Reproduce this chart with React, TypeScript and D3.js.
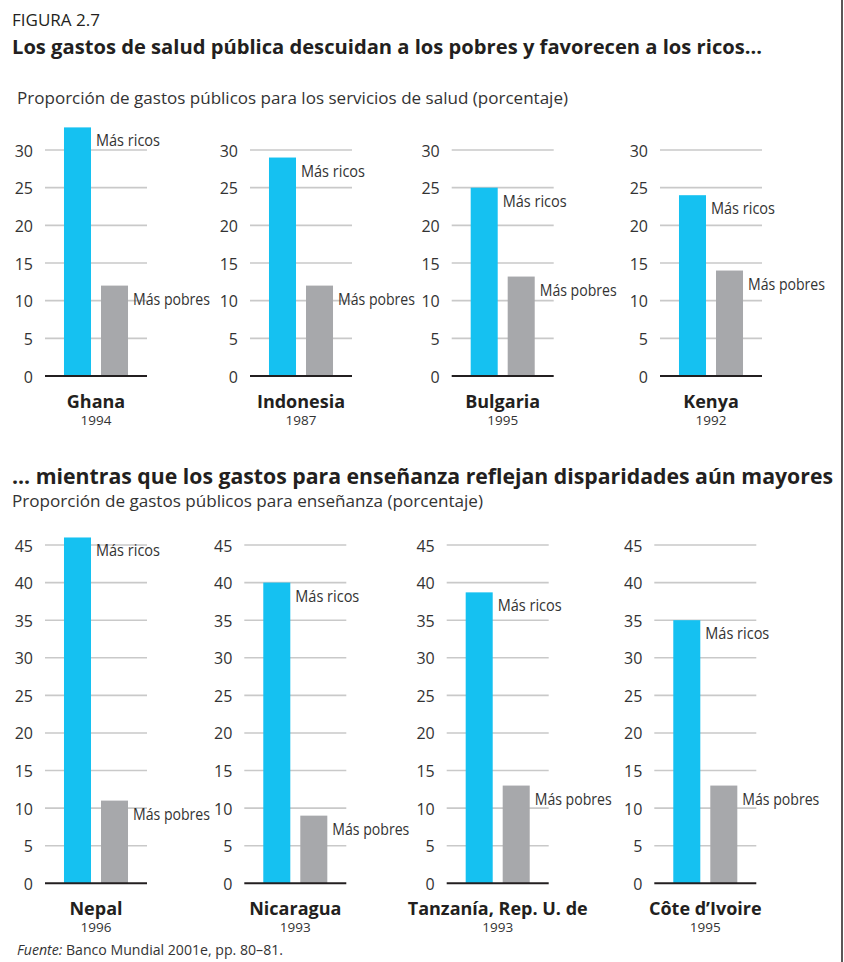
import React from 'react';
import * as d3 from 'd3';

// ---- data ----
const healthCountries = ['Ghana', 'Indonesia', 'Bulgaria', 'Kenya'];
const healthYears = ['1994', '1987', '1995', '1992'];
const healthRich = [33, 29, 25, 24];
const healthPoor = [12, 12, 13.2, 14];
const healthTicks = [0, 5, 10, 15, 20, 25, 30];

const eduCountries = ['Nepal', 'Nicaragua', 'Tanzanía, Rep. U. de', 'Côte d’Ivoire'];
const eduYears = ['1996', '1993', '1993', '1995'];
const eduRich = [46, 40, 38.7, 35];
const eduPoor = [11, 9, 13, 13];
const eduTicks = [0, 5, 10, 15, 20, 25, 30, 35, 40, 45];

const seriesKeys = ['rich', 'poor'];
const seriesLabels = ['Más ricos', 'Más pobres'];

const figureLabel = 'FIGURA 2.7';
const title1 = 'Los gastos de salud pública descuidan a los pobres y favorecen a los ricos...';
const subtitle1 = 'Proporción de gastos públicos para los servicios de salud (porcentaje)';
const title2 = '... mientras que los gastos para enseñanza reflejan disparidades aún mayores';
const subtitle2 = 'Proporción de gastos públicos para enseñanza (porcentaje)';
const sourceLead = 'Fuente:';
const sourceText = ' Banco Mundial 2001e, pp. 80–81.';

// ---- style ----
const W = 844;
const H = 962;
const BLUE = '#15c1f1';
const GRAY = '#a7a8ab';
const GRID = '#c9c9c9';
const DARK = '#231f20';
const TEXT = '#333333';
const FONT = "'Open Sans', 'Noto Sans', sans-serif";
const PANEL_W = 102;
const labelWidths = [64, 77];

type PanelProps = {
  x0: number;
  y: d3.ScaleLinear<number, number>;
  ticks: number[];
  rich: number;
  poor: number;
  country: string;
  year: string;
};

function Panel({ x0, y, ticks, rich, poor, country, year }: PanelProps) {
  const xb = d3.scaleBand<string>().domain(seriesKeys).range([x0, x0 + PANEL_W]).paddingInner(0.27).paddingOuter(0.513);
  const vals = [rich, poor];
  const colors = [BLUE, GRAY];
  const base = y(0);
  return (
    <g>
      {ticks.filter((t) => t > 0).map((t) => (
        <line key={'g' + t} x1={x0} x2={x0 + PANEL_W} y1={y(t)} y2={y(t)} stroke={GRID} strokeWidth={1.6} />
      ))}
      {ticks.map((t) => (
        <text key={'t' + t} x={x0 - 12} y={y(t) + 6.5} textAnchor="end" fontSize={16} fill={TEXT} fontFamily={FONT}>
          {t}
        </text>
      ))}
      {seriesKeys.map((k, i) => (
        <rect key={k} x={xb(k)} y={y(vals[i])} width={xb.bandwidth()} height={base - y(vals[i])} fill={colors[i]} />
      ))}
      <line x1={x0} x2={x0 + PANEL_W} y1={base} y2={base} stroke={DARK} strokeWidth={2} />
      {seriesKeys.map((k, i) => (
        <text
          key={'l' + k}
          x={(xb(k) as number) + xb.bandwidth() + 5}
          y={y(vals[i]) + 19}
          fontSize={16}
          fill={TEXT}
          fontFamily={FONT}
          textLength={labelWidths[i]}
          lengthAdjust="spacingAndGlyphs"
        >
          {seriesLabels[i]}
        </text>
      ))}
      <text x={x0 + PANEL_W / 2} y={base + 32} textAnchor="middle" fontSize={18} fontWeight={700} fill={DARK} fontFamily={FONT}>
        {country}
      </text>
      <text x={x0 + PANEL_W / 2} y={base + 49} textAnchor="middle" fontSize={13.5} fill={TEXT} fontFamily={FONT}>
        {year}
      </text>
    </g>
  );
}

export default function App() {
  const yTop = d3.scaleLinear().domain([0, 30]).range([376, 150]);
  const yBot = d3.scaleLinear().domain([0, 45]).range([883.3, 545]);
  const topX = [45, 250, 451.7, 660];
  const botX = [45, 244.3, 446.7, 654.3];

  return (
    <svg width={W} height={H} style={{ position: 'absolute', left: 0, top: 0, background: '#fff' }}>
      <rect x={0} y={0} width={W} height={H} fill="#fff" />
      <line x1={842} x2={842} y1={0} y2={H} stroke={DARK} strokeWidth={1.5} />

      <text x={12} y={26} fontSize={16} fill={DARK} fontFamily={FONT} textLength={88} lengthAdjust="spacingAndGlyphs">
        {figureLabel}
      </text>
      <text x={12} y={54} fontSize={20} fontWeight={700} fill={DARK} fontFamily={FONT} textLength={750} lengthAdjust="spacingAndGlyphs">
        {title1}
      </text>
      <text x={17} y={103.5} fontSize={16} fill={TEXT} fontFamily={FONT} textLength={551} lengthAdjust="spacingAndGlyphs">
        {subtitle1}
      </text>

      {healthCountries.map((c, i) => (
        <Panel key={c} x0={topX[i]} y={yTop} ticks={healthTicks} rich={healthRich[i]} poor={healthPoor[i]} country={c} year={healthYears[i]} />
      ))}

      <text x={12} y={484} fontSize={21} fontWeight={700} fill={DARK} fontFamily={FONT} textLength={821} lengthAdjust="spacingAndGlyphs">
        {title2}
      </text>
      <text x={12} y={507} fontSize={16} fill={TEXT} fontFamily={FONT} textLength={471} lengthAdjust="spacingAndGlyphs">
        {subtitle2}
      </text>

      {eduCountries.map((c, i) => (
        <Panel key={c} x0={botX[i]} y={yBot} ticks={eduTicks} rich={eduRich[i]} poor={eduPoor[i]} country={c} year={eduYears[i]} />
      ))}

      <text x={17} y={955} fontSize={14.5} fill={TEXT} fontFamily={FONT} textLength={266} lengthAdjust="spacingAndGlyphs">
        <tspan fontStyle="italic">{sourceLead}</tspan>
        <tspan>{sourceText}</tspan>
      </text>
    </svg>
  );
}
